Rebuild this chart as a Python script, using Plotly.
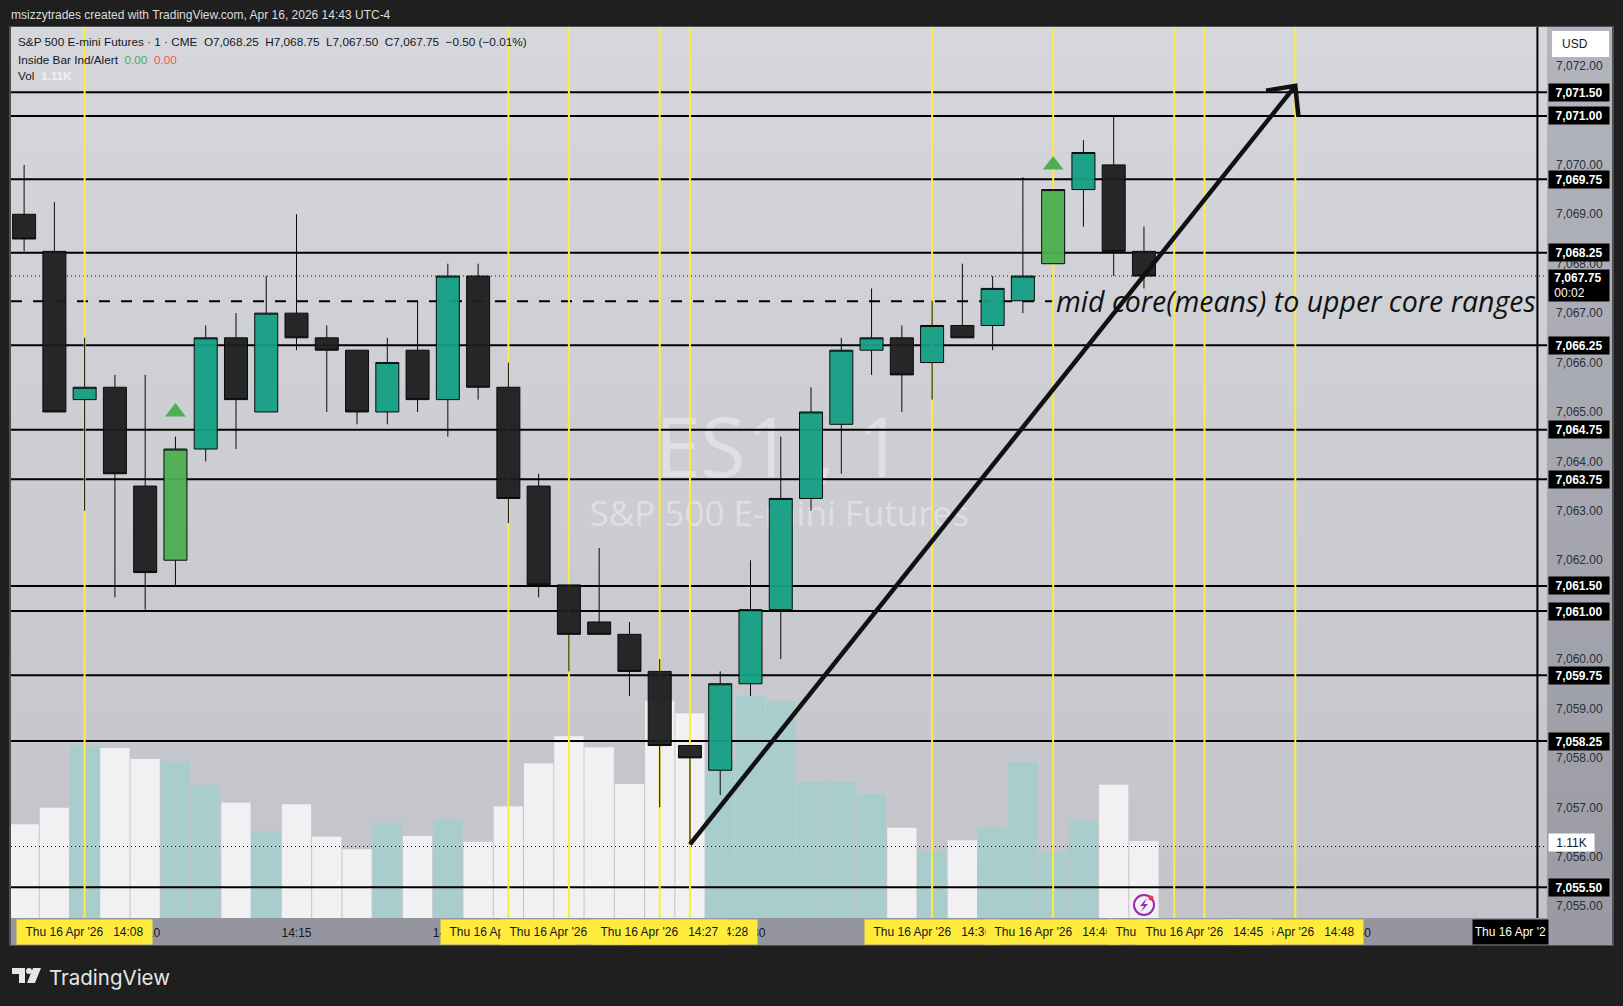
import plotly.graph_objects as go

W, H = 1623, 1006
DAY = "2026-04-16 "
FONT = "Liberation Sans"

minutes = ["14:06", "14:07", "14:08", "14:09", "14:10", "14:11", "14:12", "14:13", "14:14", "14:15",
           "14:16", "14:17", "14:18", "14:19", "14:20", "14:21", "14:22", "14:23", "14:24", "14:25",
           "14:26", "14:27", "14:28", "14:29", "14:30", "14:31", "14:32", "14:33", "14:34", "14:35",
           "14:36", "14:37", "14:38", "14:39", "14:40", "14:41", "14:42", "14:43"]
opens = [7069.0, 7068.25, 7065.25, 7065.5, 7063.5, 7062.0, 7064.25, 7066.5, 7065.0, 7067.0,
         7066.5, 7066.25, 7065.0, 7066.25, 7065.25, 7067.75, 7065.5, 7063.5, 7061.5, 7060.75,
         7060.5, 7059.75, 7058.25, 7057.75, 7059.5, 7061.0, 7063.25, 7064.75, 7066.25, 7066.5,
         7066.0, 7066.75, 7066.75, 7067.25, 7068.0, 7069.5, 7070.0, 7068.25]
highs = [7070.0, 7069.25, 7066.5, 7065.75, 7065.75, 7064.5, 7066.75, 7067.0, 7067.75, 7069.0,
         7066.75, 7066.25, 7066.5, 7067.25, 7068.0, 7068.0, 7066.0, 7063.75, 7061.5, 7062.25,
         7060.75, 7060.0, 7058.25, 7059.75, 7062.0, 7064.5, 7065.5, 7066.5, 7067.5, 7066.75,
         7067.25, 7068.0, 7067.75, 7069.75, 7069.5, 7070.5, 7071.0, 7068.75]
lows = [7068.25, 7065.0, 7063.0, 7061.25, 7061.0, 7061.5, 7064.0, 7064.25, 7065.0, 7066.25,
        7065.0, 7064.75, 7064.75, 7065.0, 7064.5, 7065.25, 7062.75, 7061.25, 7059.75, 7060.5,
        7059.25, 7057.0, 7056.25, 7057.25, 7059.25, 7060.0, 7063.0, 7063.75, 7065.75, 7065.0,
        7065.25, 7066.5, 7066.25, 7067.0, 7068.0, 7068.75, 7067.75, 7067.5]
closes = [7068.5, 7065.0, 7065.5, 7063.75, 7061.75, 7064.25, 7066.5, 7065.25, 7067.0, 7066.5,
          7066.25, 7065.0, 7066.0, 7065.25, 7067.75, 7065.5, 7063.25, 7061.5, 7060.5, 7060.5,
          7059.75, 7058.25, 7058.0, 7059.5, 7061.0, 7063.25, 7065.0, 7066.25, 7066.5, 7065.75,
          7066.75, 7066.5, 7067.5, 7067.75, 7069.5, 7070.25, 7068.25, 7067.75]
# volume in thousands, bar colour follows candle direction
volumes = [1.35, 1.59, 2.49, 2.45, 2.29, 2.26, 1.92, 1.66, 1.25, 1.64,
           1.17, 0.99, 1.37, 1.18, 1.43, 1.10, 1.61, 2.23, 2.62, 2.46,
           1.93, 3.13, 2.95, 2.28, 3.21, 3.13, 1.96, 1.96, 1.79, 1.30,
           0.97, 1.12, 1.31, 2.25, 0.95, 1.40, 1.92, 1.11]
inside_minutes = ["14:11", "14:40"]
inside_marks = [7065.0, 7070.0]

level_values = [7071.47, 7070.99, 7069.71, 7068.22, 7066.35, 7064.64, 7063.64, 7061.48, 7060.97, 7059.67, 7058.34, 7055.38]
level_labels = ["7,071.50", "7,071.00", "7,069.75", "7,068.25", "7,066.25", "7,064.75", "7,063.75", "7,061.50",
                "7,061.00", "7,059.75", "7,058.25", "7,055.50"]
mid_core = 7067.24
last_price = 7067.75
last_volume_line = 1.03
yellow_minutes = ["14:08", "14:22", "14:24", "14:27", "14:28", "14:36", "14:40", "14:44", "14:45", "14:48"]
# draw order of the date labels on the time axis, later ones cover earlier ones
yellow_label_order = ["14:08", "14:22", "14:24", "14:28", "14:27", "14:36", "14:40", "14:44", "14:48", "14:45"]
tick_minutes = ["14:10", "14:15", "14:20", "14:25", "14:30", "14:35", "14:40", "14:45", "14:50", "14:55"]
price_ticks = [7055, 7056, 7057, 7058, 7059, 7060, 7061, 7062, 7063, 7064, 7065, 7066, 7067, 7068, 7069, 7070, 7071, 7072]
trend_x = ["14:28:00", "14:48:00"]
trend_y = [7056.25, 7071.6]
head_x = ["14:47:02", "14:48:00", "14:48:06"]
head_y = [7071.5, 7071.6, 7071.0]

x_range = [DAY + "14:05:34", DAY + "14:56:19"]
price_range = [7054.76, 7072.79]
volume_range = [0, 12.84]
crosshair = "14:56:00"


def t(m):
    return DAY + m


def px(x):
    return x / W


def py(y):
    return 1 - y / H


def mix(a, b, f):
    return "rgb({},{},{})".format(*[round(a[i] + (b[i] - a[i]) * f) for i in range(3)])


def gradient(x0, x1, y0, y1, top, bottom, n=30):
    # plotly shapes have no gradient fill, stack bands that each run to the bottom
    out = []
    for i in range(n):
        out.append(dict(type="rect", xref="paper", yref="paper", layer="below", line_width=0,
                        x0=px(x0), x1=px(x1), y0=py(y0 + (y1 - y0) * i / n), y1=py(y1),
                        fillcolor=mix(top, bottom, (i + 0.5) / n)))
    return out


fig = go.Figure()

# volume on the bottom subplot
up = [c >= o for o, c in zip(opens, closes)]
fig.add_trace(go.Bar(x=[t(m) for m in minutes], y=volumes, xaxis="x", yaxis="y", width=58000,
                     marker=dict(color=["#a9cdcd" if u else "#f1f1f3" for u in up], line_width=0)))
fig.add_trace(go.Scatter(x=[x_range[0], x_range[1]], y=[last_volume_line] * 2, mode="lines", xaxis="x", yaxis="y",
                         line=dict(color="#111111", width=1, dash="1px,3px")))

# levels, yellow verticals and watermark go between volume and candles
fig.add_trace(go.Scatter(x=[DAY + "14:30:57"], y=[7064.1], mode="text", text=["ES1!, 1"], xaxis="x2", yaxis="y2",
                         textfont=dict(family="Open Sans", size=82, color="rgba(255,255,255,0.38)")))
fig.add_trace(go.Scatter(x=[DAY + "14:30:57"], y=[7062.87], mode="text", text=["S&P 500 E-mini Futures"], xaxis="x2", yaxis="y2",
                         textfont=dict(family="Open Sans", size=35, color="rgba(255,255,255,0.38)")))
for level in level_values:
    fig.add_trace(go.Scatter(x=x_range, y=[level, level], mode="lines", xaxis="x2", yaxis="y2",
                             line=dict(color="#000000", width=2)))
fig.add_trace(go.Scatter(x=x_range, y=[last_price, last_price], mode="lines", xaxis="x2", yaxis="y2",
                         line=dict(color="#111111", width=1, dash="1px,3px")))
fig.add_trace(go.Scatter(x=[x_range[0], t("14:40")], y=[mid_core, mid_core], mode="lines", xaxis="x2", yaxis="y2",
                         line=dict(color="#000000", width=2, dash="11px,11px")))
for m in yellow_minutes:
    fig.add_trace(go.Scatter(x=[t(m), t(m)], y=price_range, mode="lines", xaxis="x2", yaxis="y2",
                             line=dict(color="#ffeb3b", width=2)))
fig.add_trace(go.Scatter(x=[t(crosshair)] * 2, y=price_range, mode="lines", xaxis="x2", yaxis="y2",
                         line=dict(color="#000000", width=2)))

# candles
plain = [i for i, m in enumerate(minutes) if m not in inside_minutes]
inside = [i for i, m in enumerate(minutes) if m in inside_minutes]
for idx, up_colour, down_colour in [(plain, "#14a085", "#1d1e1e"), (inside, "#4caf50", "#4caf50")]:
    fig.add_trace(go.Candlestick(x=[t(minutes[i]) for i in idx],
                                 open=[opens[i] for i in idx], high=[highs[i] for i in idx],
                                 low=[lows[i] for i in idx], close=[closes[i] for i in idx],
                                 xaxis="x3", yaxis="y3", opacity=0.95, whiskerwidth=0,
                                 increasing=dict(fillcolor=up_colour, line=dict(color="#000000", width=1)),
                                 decreasing=dict(fillcolor=down_colour, line=dict(color="#000000", width=1))))
fig.add_trace(go.Scatter(x=[t(m) for m in inside_minutes], y=inside_marks, mode="markers", xaxis="x3", yaxis="y3",
                         marker=dict(symbol="triangle-up", size=18, color="#4caf50", line_width=0)))
fig.add_trace(go.Scatter(x=[t(m) for m in trend_x], y=trend_y, mode="lines", xaxis="x3", yaxis="y3",
                         line=dict(color="#111111", width=4.5)))
fig.add_trace(go.Scatter(x=[t(m) for m in head_x], y=head_y, mode="lines", xaxis="x3", yaxis="y3",
                         line=dict(color="#111111", width=4.5)))

shapes = []
# frame, pane and axis bands
shapes.append(dict(type="rect", xref="paper", yref="paper", layer="below", x0=px(9), x1=px(1614), y0=py(26), y1=py(946),
                   fillcolor="#4f5053", line_width=0))
shapes += gradient(11, 1547, 27, 918, (214, 215, 220), (195, 196, 201))
shapes += gradient(1547, 1612, 27, 945, (179, 181, 190), (153, 154, 163))
shapes.append(dict(type="rect", xref="paper", yref="paper", layer="below", x0=px(11), x1=px(1547), y0=py(918), y1=py(945),
                   fillcolor="#94959e", line_width=0))
shapes.append(dict(type="path", xref="paper", yref="paper", layer="above", fillcolor="#ffffff", line_width=0,
                   path="M{},{} L{},{} L{},{} L{},{} Z".format(px(1552), py(31), px(1609), py(31), px(1609), py(57), px(1552), py(57))))


def circle(cx, cy, r, **kw):
    return dict(type="circle", xref="paper", yref="paper", layer="above",
                x0=px(cx - r), x1=px(cx + r), y0=py(cy + r), y1=py(cy - r), **kw)


def poly(points, colour):
    path = "M" + " L".join("{},{}".format(px(a), py(b)) for a, b in points) + " Z"
    return dict(type="path", xref="paper", yref="paper", layer="above", path=path, fillcolor=colour, line_width=0)


# lightning badge
shapes.append(circle(1144, 905, 12, fillcolor="#f1f1f3", line_width=0))
shapes.append(circle(1144, 905, 10, fillcolor="rgba(0,0,0,0)", line=dict(color="#9c27b0", width=2)))
shapes.append(poly([(1147, 898), (1140, 906), (1144, 906), (1141, 912), (1148, 904), (1144, 904)], "#9c27b0"))
shapes.append(circle(1151, 898, 2.5, fillcolor="#f23645", line_width=0))
# TradingView mark
shapes.append(poly([(12, 968), (25, 968), (25, 983), (19, 983), (19, 974), (12, 974)], "#e6e6e6"))
shapes.append(circle(29, 971, 3, fillcolor="#e6e6e6", line_width=0))
shapes.append(poly([(33, 968), (41, 968), (35, 983), (27, 983)], "#e6e6e6"))

annotations = []


def note(text, x, y, size=12, color="#131722", family=FONT, anchor="left", **kw):
    annotations.append(dict(text=text, x=px(x), y=py(y), xref="paper", yref="paper", showarrow=False,
                            xanchor=anchor, yanchor="middle", font=dict(family=family, size=size, color=color), **kw))


note("msizzytrades created with TradingView.com, Apr 16, 2026 14:43 UTC-4", 9, 15, color="#dcdcdc")
note("S&amp;P 500 E-mini Futures · 1 · CME  O7,068.25  H7,068.75  L7,067.50  C7,067.75  −0.50 (−0.01%)", 16, 42, size=11.75)
note('Inside Bar Ind/Alert  <span style="color:#4caf50">0.00</span>  <span style="color:#ff5252">0.00</span>', 16, 59, size=11.75)
note('Vol  <span style="color:#f1f1f3"><b>1.11K</b></span>', 16, 76, size=11.75)
note("USD", 1560, 44)
note("TradingView", 47, 977, size=20.5, color="#e6e6e6", family="Inter")
note("<i>mid core(means) to upper core ranges</i>", 1054, 301, size=28.5, color="#111111", family="Open Sans")

# black price tags on the right scale
for level, label in zip(level_values, level_labels):
    annotations.append(dict(text="<b>" + label + "</b>", x=px(1548), y=level, xref="paper", yref="y2", showarrow=False,
                            xanchor="left", yanchor="middle", align="center", width=56, height=13, borderpad=2,
                            bgcolor="#000000", font=dict(family=FONT, size=12, color="#ffffff")))
annotations.append(dict(text="&nbsp;<b>7,067.75</b><br>&nbsp;00:02", x=px(1548), y=py(285), xref="paper", yref="paper", showarrow=False,
                        xanchor="left", yanchor="middle", align="left", width=56, height=27, borderpad=2,
                        bgcolor="#000000", font=dict(family=FONT, size=12, color="#ffffff")))
annotations.append(dict(text="1.11K", x=px(1548), y=py(842), xref="paper", yref="paper", showarrow=False,
                        xanchor="left", yanchor="middle", align="center", width=41, height=13, borderpad=2,
                        bgcolor="#ffffff", font=dict(family=FONT, size=12, color="#131722")))

# yellow date tags on the time axis
for m in yellow_label_order:
    annotations.append(dict(text="Thu 16 Apr '26   " + m, x=t(m), y=py(931.5), xref="x", yref="paper", showarrow=False,
                            xanchor="center", yanchor="middle", width=131, height=20, borderpad=2,
                            bgcolor="#ffeb3b", font=dict(family=FONT, size=12, color="#131722")))
annotations.append(dict(text="Thu 16 Apr '2", x=px(1472), y=py(931.5), xref="paper", yref="paper", showarrow=False,
                        xanchor="left", yanchor="middle", align="right", width=71, height=20, borderpad=2,
                        bgcolor="#000000", font=dict(family=FONT, size=12, color="#ffffff")))

x_domain = [px(11), px(1547)]
y_domain = [py(918), py(27)]
hidden = dict(visible=False, showgrid=False, zeroline=False)

fig.update_layout(
    width=W, height=H, margin=dict(l=0, r=0, t=0, b=0), showlegend=False, hovermode=False,
    paper_bgcolor="#1f1f1f", plot_bgcolor="rgba(0,0,0,0)", shapes=shapes, annotations=annotations,
    boxgap=0.24, boxgroupgap=0,
    xaxis=dict(domain=x_domain, range=x_range, type="date", showgrid=False, zeroline=False, showline=False, ticks="",
               tickvals=[t(m) for m in tick_minutes], ticktext=tick_minutes, ticklabelstandoff=6,
               tickfont=dict(family=FONT, size=12, color="#131722")),
    yaxis=dict(domain=y_domain, range=volume_range, **hidden),
    xaxis2=dict(domain=x_domain, range=x_range, type="date", overlaying="x", anchor="y2", **hidden),
    yaxis2=dict(domain=y_domain, range=price_range, overlaying="y", anchor="x2", side="right", showgrid=False,
                zeroline=False, showline=False, ticks="", tickvals=price_ticks, tickformat=",.2f", ticklabelstandoff=8,
                tickfont=dict(family=FONT, size=12, color="#2a2e39")),
    xaxis3=dict(domain=x_domain, range=x_range, type="date", overlaying="x", anchor="y3", rangeslider_visible=False, **hidden),
    yaxis3=dict(domain=y_domain, range=price_range, overlaying="y", anchor="x3", **hidden),
)

fig.write_html("out.html", config={"displayModeBar": False},
               post_script="document.body.style.margin='0';document.body.style.overflow='hidden';")
